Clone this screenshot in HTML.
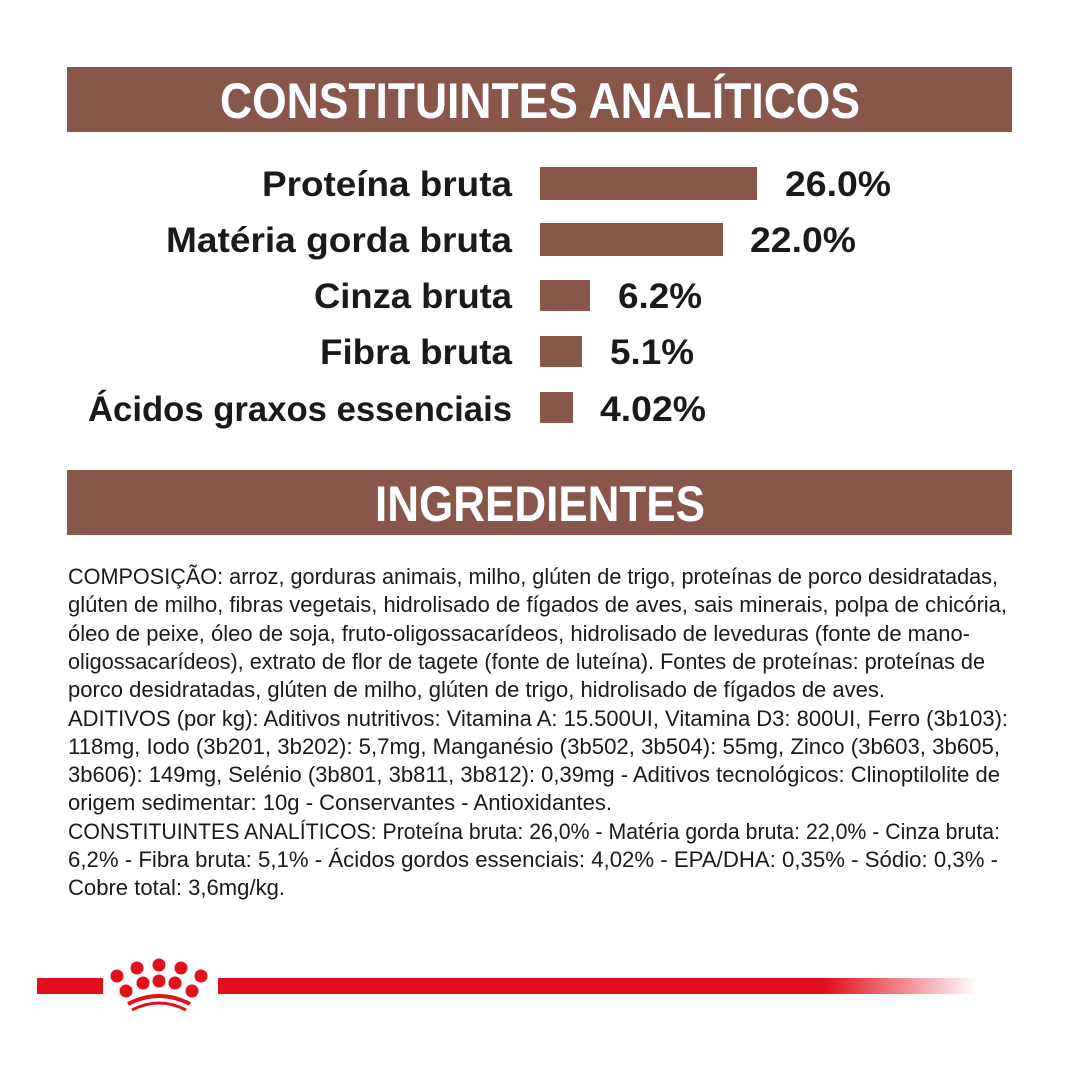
<!DOCTYPE html>
<html><head><meta charset="utf-8"><style>
html,body{margin:0;padding:0;background:#fff;}
svg{display:block}
</style></head><body>
<svg width="1080" height="1080" viewBox="0 0 1080 1080" xmlns="http://www.w3.org/2000/svg" font-family="'Liberation Sans', sans-serif">
<defs>
<linearGradient id="fade" x1="0" x2="1" y1="0" y2="0">
<stop offset="0" stop-color="#e2101c"/><stop offset="0.8" stop-color="#e2101c"/><stop offset="1" stop-color="#e2101c" stop-opacity="0"/>
</linearGradient>
</defs>
<rect x="67" y="67" width="945" height="65" fill="#87574a"/>
<text x="540" y="118" text-anchor="middle" font-size="50" font-weight="bold" fill="#fff" textLength="640" lengthAdjust="spacingAndGlyphs">CONSTITUINTES ANALÍTICOS</text>
<rect x="67" y="470" width="945" height="65" fill="#87574a"/>
<text x="540" y="521" text-anchor="middle" font-size="50" font-weight="bold" fill="#fff" textLength="330" lengthAdjust="spacingAndGlyphs">INGREDIENTES</text>

<g font-size="35" font-weight="bold" fill="#1a1a1a" text-anchor="end">
<text x="512" y="196" textLength="250" lengthAdjust="spacingAndGlyphs">Proteína bruta</text>
<text x="512" y="252" textLength="346" lengthAdjust="spacingAndGlyphs">Matéria gorda bruta</text>
<text x="512" y="308" textLength="198" lengthAdjust="spacingAndGlyphs">Cinza bruta</text>
<text x="512" y="364" textLength="192" lengthAdjust="spacingAndGlyphs">Fibra bruta</text>
<text x="512" y="421" textLength="424" lengthAdjust="spacingAndGlyphs">Ácidos graxos essenciais</text>
</g>
<g fill="#87574a">
<rect x="540" y="167" width="217" height="33"/>
<rect x="540" y="223" width="183" height="33"/>
<rect x="540" y="280" width="50" height="31"/>
<rect x="540" y="336" width="42" height="31"/>
<rect x="540" y="392" width="33" height="31"/>
</g>
<g font-size="35" font-weight="bold" fill="#1a1a1a">
<text x="785" y="196" textLength="106" lengthAdjust="spacingAndGlyphs">26.0%</text>
<text x="750" y="252" textLength="106" lengthAdjust="spacingAndGlyphs">22.0%</text>
<text x="618" y="308" textLength="84" lengthAdjust="spacingAndGlyphs">6.2%</text>
<text x="610" y="364" textLength="84" lengthAdjust="spacingAndGlyphs">5.1%</text>
<text x="600" y="421" textLength="106" lengthAdjust="spacingAndGlyphs">4.02%</text>
</g>

<g font-size="22" fill="#1a1a1a">
<text x="68" y="584" textLength="930" lengthAdjust="spacingAndGlyphs">COMPOSIÇÃO: arroz, gorduras animais, milho, glúten de trigo, proteínas de porco desidratadas,</text>
<text x="68" y="612" textLength="939" lengthAdjust="spacingAndGlyphs">glúten de milho, fibras vegetais, hidrolisado de fígados de aves, sais minerais, polpa de chicória,</text>
<text x="68" y="641" textLength="902" lengthAdjust="spacingAndGlyphs">óleo de peixe, óleo de soja, fruto-oligossacarídeos, hidrolisado de leveduras (fonte de mano-</text>
<text x="68" y="669" textLength="917" lengthAdjust="spacingAndGlyphs">oligossacarídeos), extrato de flor de tagete (fonte de luteína). Fontes de proteínas: proteínas de</text>
<text x="68" y="697" textLength="817" lengthAdjust="spacingAndGlyphs">porco desidratadas, glúten de milho, glúten de trigo, hidrolisado de fígados de aves.</text>
<text x="68" y="726" textLength="940" lengthAdjust="spacingAndGlyphs">ADITIVOS (por kg): Aditivos nutritivos: Vitamina A: 15.500UI, Vitamina D3: 800UI, Ferro (3b103):</text>
<text x="68" y="754" textLength="932" lengthAdjust="spacingAndGlyphs">118mg, Iodo (3b201, 3b202): 5,7mg, Manganésio (3b502, 3b504): 55mg, Zinco (3b603, 3b605,</text>
<text x="68" y="782" textLength="932" lengthAdjust="spacingAndGlyphs">3b606): 149mg, Selénio (3b801, 3b811, 3b812): 0,39mg - Aditivos tecnológicos: Clinoptilolite de</text>
<text x="68" y="810" textLength="544" lengthAdjust="spacingAndGlyphs">origem sedimentar: 10g - Conservantes - Antioxidantes.</text>
<text x="68" y="839" textLength="932" lengthAdjust="spacingAndGlyphs">CONSTITUINTES ANALÍTICOS: Proteína bruta: 26,0% - Matéria gorda bruta: 22,0% - Cinza bruta:</text>
<text x="68" y="867" textLength="930" lengthAdjust="spacingAndGlyphs">6,2% - Fibra bruta: 5,1% - Ácidos gordos essenciais: 4,02% - EPA/DHA: 0,35% - Sódio: 0,3% -</text>
<text x="68" y="895" textLength="217" lengthAdjust="spacingAndGlyphs">Cobre total: 3,6mg/kg.</text>
</g>

<rect x="37" y="978" width="66" height="16" fill="#e2101c"/>
<rect x="218" y="978" width="760" height="16" fill="url(#fade)"/>
<g fill="#e2101c">
<circle cx="117" cy="976" r="6.5"/>
<circle cx="137" cy="968" r="6.5"/>
<circle cx="159" cy="965" r="6.5"/>
<circle cx="181" cy="968" r="6.5"/>
<circle cx="201" cy="976" r="6.5"/>
<circle cx="126" cy="991" r="6.5"/>
<circle cx="143" cy="983" r="6.5"/>
<circle cx="159" cy="981" r="6.5"/>
<circle cx="175" cy="983" r="6.5"/>
<circle cx="192" cy="991" r="6.5"/>
</g>
<path d="M128 1004 Q159 988 190 1004" stroke="#e2101c" stroke-width="4" fill="none"/>
<path d="M132 1010 Q159 996 186 1010" stroke="#e2101c" stroke-width="3" fill="none"/>
</svg>
</body></html>
